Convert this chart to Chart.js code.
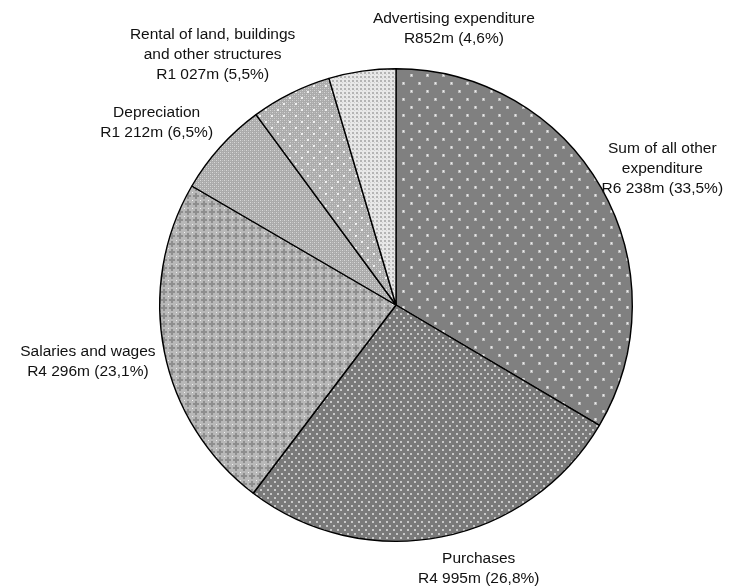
<!DOCTYPE html>
<html><head><meta charset="utf-8">
<script src="https://cdn.jsdelivr.net/npm/chart.js@4.4.0/dist/chart.umd.min.js"></script>
<style>html,body{margin:0;padding:0;background:#fff}#wrap{width:738px;height:587px;position:relative}canvas{display:block}</style>
</head><body><div id="wrap"><canvas id="c" width="738" height="587"></canvas></div>
<script>
// ---- data ----
const categories = ["Sum of all other expenditure","Purchases","Salaries and wages","Depreciation","Rental of land, buildings and other structures","Advertising expenditure"];
const valuesRm = [6238, 4995, 4296, 1212, 1027, 852];
const amountLabels = ["R6 238m","R4 995m","R4 296m","R1 212m","R1 027m","R852m"];
const percentLabels = ["33,5%","26,8%","23,1%","6,5%","5,5%","4,6%"];
const nameLines = [["Sum of all other","expenditure"],["Purchases"],["Salaries and wages"],["Depreciation"],["Rental of land, buildings","and other structures"],["Advertising expenditure"]];

const canvas = document.getElementById('c');
const ctx = canvas.getContext('2d');

function tile(w, h, draw) {
  const c = document.createElement('canvas');
  c.width = w; c.height = h;
  const g = c.getContext('2d');
  draw(g);
  return ctx.createPattern(c, 'repeat');
}
const patSum = tile(16, 16, g => {
  g.fillStyle = '#808080'; g.fillRect(0,0,16,16);
  g.fillStyle = '#bdbdbd'; g.fillRect(2,2,3,3); g.fillRect(10,10,3,3);
  g.fillStyle = '#f2f2f2'; g.fillRect(3,3,1,1); g.fillRect(11,11,1,1);
  g.fillStyle = '#dcdcdc'; g.fillRect(3,2,1,1); g.fillRect(11,10,1,1);
});
const patPurch = tile(7, 8, g => {
  g.fillStyle = '#7a7a7a'; g.fillRect(0,0,7,8);
  g.fillStyle = '#c8c8c8'; g.fillRect(1,1,2,2); g.fillRect(4,5,2,2);
});
const patSal = tile(8, 8, g => {
  g.fillStyle = '#b8b8b8'; g.fillRect(0,0,8,8);
  g.fillStyle = '#8e8e8e';
  g.fillRect(3,1,2,6); g.fillRect(1,3,6,2);
  g.fillStyle = '#f4f4f4'; g.fillRect(0,0,1,1);
});
const patDep = tile(4, 4, g => {
  g.fillStyle = '#ababab'; g.fillRect(0,0,4,4);
  g.fillStyle = '#d8d8d8'; g.fillRect(0,0,1,1); g.fillRect(2,2,1,1);
  g.fillStyle = '#c0c0c0'; g.fillRect(2,0,1,1); g.fillRect(0,2,1,1);
});
const patRent = tile(12, 12, g => {
  for (let y = 0; y < 12; y += 4) for (let x = 0; x < 12; x += 4) {
    g.fillStyle = '#ababab'; g.fillRect(x,y,4,4);
    g.fillStyle = '#d4d4d4'; g.fillRect(x,y,1,1); g.fillRect(x+2,y+2,1,1);
    g.fillStyle = '#bdbdbd'; g.fillRect(x+2,y,1,1); g.fillRect(x,y+2,1,1);
  }
  g.fillStyle = '#f0f0f0'; g.fillRect(1,1,2,2); g.fillRect(7,7,2,2);
});
const patAdv = tile(4, 4, g => {
  g.fillStyle = '#e8e8e8'; g.fillRect(0,0,4,4);
  g.fillStyle = '#b4b4b4'; g.fillRect(0,0,2,2);
  g.fillStyle = '#cfcfcf'; g.fillRect(2,2,1,1);
});
const patterns = [patSum, patPurch, patSal, patDep, patRent, patAdv];

// label block centres relative to pie centre, in units of radius
const labelAnchors = [[1.127,-0.576],[0.350,1.114],[-1.304,0.238],[-1.013,-0.772],[-0.776,-1.059],[0.245,-1.170]];

const labelPlugin = {
  id: 'sliceLabels',
  afterDatasetsDraw(chart) {
    const meta = chart.getDatasetMeta(0);
    const c = chart.ctx;
    c.save();
    c.font = '15.5px "Liberation Sans", Arial, sans-serif';
    c.fillStyle = '#111';
    c.textAlign = 'center';
    c.textBaseline = 'middle';
    const lh = 20;
    meta.data.forEach((arc, i) => {
      const lines = nameLines[i].concat([amountLabels[i] + ' (' + percentLabels[i] + ')']);
      const cx = arc.x + labelAnchors[i][0] * arc.outerRadius;
      const cy = arc.y + labelAnchors[i][1] * arc.outerRadius;
      const top = cy - (lines.length - 1) * lh / 2;
      lines.forEach((t, k) => c.fillText(t, cx, top + k * lh));
    });
    c.restore();
  }
};

new Chart(canvas, {
  type: 'pie',
  data: {
    labels: categories,
    datasets: [{
      data: valuesRm,
      backgroundColor: patterns,
      borderColor: '#000',
      borderWidth: 1.4,
      borderAlign: 'center'
    }]
  },
  options: {
    responsive: false,
    animation: false,
    layout: { padding: { left: 159, right: 105, top: 68, bottom: 45 } },
    plugins: { legend: { display: false }, tooltip: { enabled: false } }
  },
  plugins: [labelPlugin]
});
</script>
</body></html>
